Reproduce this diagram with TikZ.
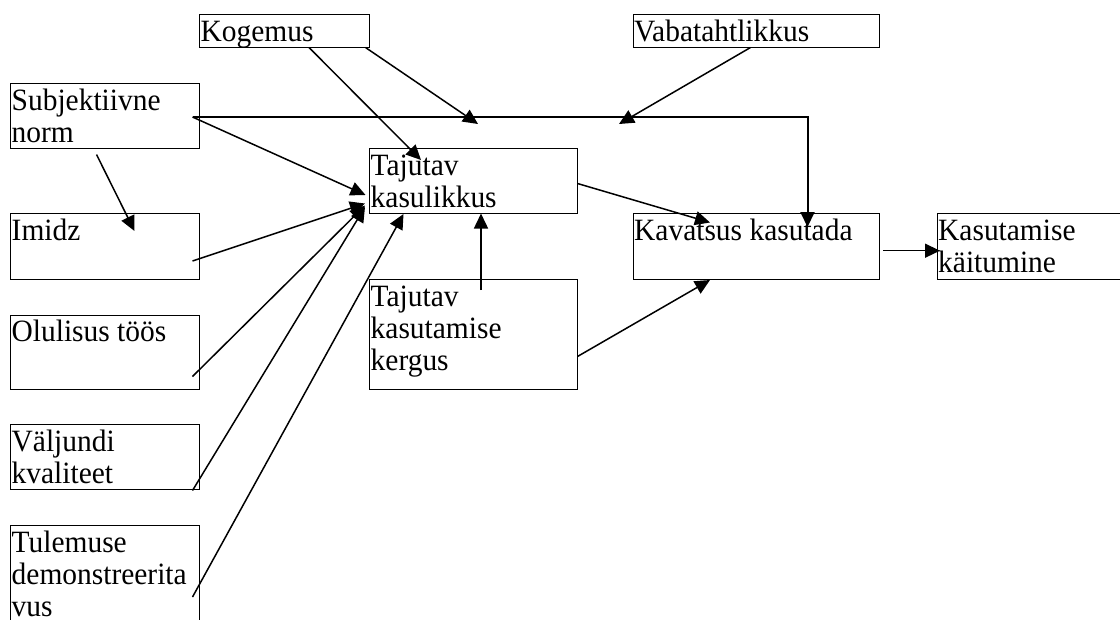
\documentclass[tikz,border=0pt]{standalone}
\usepackage{fontspec}
\setmainfont[FakeStretch=0.95]{Liberation Serif}
\usetikzlibrary{calc,arrows.meta}
\tikzset{
 box/.style={draw, line width=1pt, anchor=north west, inner sep=0pt, outer sep=0pt},
 lbl/.style={anchor=north west, inner sep=0pt, align=left, font=\fontsize{31}{32}\selectfont},
 arr/.style={line width=1.5pt, -{Triangle[length=15pt,width=14pt]}},
}
\begin{document}
\begin{tikzpicture}[x=1pt,y=-1pt]
\useasboundingbox (0,0) rectangle (1120,619);
% boxes
\node[box,minimum width=170pt,minimum height=33pt] (kog) at (199.5,14.5) {};
\node[box,minimum width=246.5pt,minimum height=33pt] (vab) at (633,14.5) {};
\node[box,minimum width=189pt,minimum height=65pt] (sub) at (10.5,83.5) {};
\node[box,minimum width=208pt,minimum height=65pt] (kas) at (369.5,148.5) {};
\node[box,minimum width=246.5pt,minimum height=65.5pt] (kav) at (633,213.5) {};
\node[box,minimum width=200pt,minimum height=65.5pt] (kai) at (937,213.5) {};
\node[box,minimum width=189pt,minimum height=65.5pt] (imi) at (10.5,213.5) {};
\node[box,minimum width=208pt,minimum height=109.5pt] (ker) at (369.5,279.5) {};
\node[box,minimum width=189pt,minimum height=74pt] (olu) at (10.5,315) {};
\node[box,minimum width=189pt,minimum height=65pt] (val) at (10.5,424.5) {};
\node[box,minimum width=189pt,minimum height=120pt] (tul) at (10.5,525.5) {};
% labels
\node[lbl] (kog-t) at ($(kog.north west)+(1,3.3)$) {\rule{0pt}{23pt}Kogemus};
\node[lbl] (vab-t) at ($(vab.north west)+(1,3.3)$) {\rule{0pt}{23pt}Vabatahtlikkus};
\node[lbl] (sub-t) at ($(sub.north west)+(1,3.3)$) {\rule{0pt}{23pt}Subjektiivne\\norm};
\node[lbl] (kas-t) at ($(kas.north west)+(1,3.3)$) {\rule{0pt}{23pt}Tajutav\\kasulikkus};
\node[lbl] (kav-t) at ($(kav.north west)+(1,3.3)$) {\rule{0pt}{23pt}Kavatsus kasutada};
\node[lbl] (kai-t) at ($(kai.north west)+(1,3.3)$) {\rule{0pt}{23pt}Kasutamise\\käitumine};
\node[lbl] (imi-t) at ($(imi.north west)+(1,3.3)$) {\rule{0pt}{23pt}Imidz};
\node[lbl] (ker-t) at ($(ker.north west)+(1,3.3)$) {\rule{0pt}{23pt}Tajutav\\kasutamise\\kergus};
\node[lbl] (olu-t) at ($(olu.north west)+(1,3.3)$) {\rule{0pt}{23pt}Olulisus töös};
\node[lbl] (val-t) at ($(val.north west)+(1,3.3)$) {\rule{0pt}{23pt}Väljundi\\kvaliteet};
\node[lbl] (tul-t) at ($(tul.north west)+(1,3.3)$) {\rule{0pt}{23pt}Tulemuse\\demonstreerita\\vus};
% connectors
\draw[arr] ($(sub.north east)+(-7,33.5)$) -- ($(kas.north west)+(-4,46.5)$);
\draw[arr,line width=2pt] ($(sub.north east)+(-7,33.5)$) -| ($(kav.north west)+(174.5,13.5)$);
\draw[arr] ($(kog.south west)+(109.5,0)$) -- ($(kas.north west)+(51.5,11.5)$);
\coordinate (j1) at ($(kas.north west)+(108.5,-24.5)$);
\draw[arr] ($(kog.south east)+(-4,0)$) -- (j1);
\coordinate (j2) at ($(kav.north west)+(-14,-89.5)$);
\draw[arr] ($(vab.south west)+(117.5,0)$) -- (j2);
\draw[arr] ($(sub.south west)+(86,6)$) -- ($(imi.north west)+(124,17.5)$);
\draw[arr] ($(imi.south east)+(-7,-18)$) -- ($(kas.north west)+(-4.5,55)$);
\draw[arr] ($(olu.south east)+(-7,-12.5)$) -- ($(kas.north west)+(-4.5,57)$);
\draw[arr] ($(val.south east)+(-7,1)$) -- ($(kas.north west)+(-4.5,58.5)$);
\draw[arr] ($(tul.north east)+(-7,71.5)$) -- ($(kas.south west)+(34,0.5)$);
\draw[arr] ($(ker.north west)+(111.5,10.5)$) -- ($(kas.south west)+(111.5,0)$);
\draw[arr] ($(kas.north east)+(0,35)$) -- ($(kav.north west)+(77,9)$);
\draw[arr] ($(ker.north east)+(0,77)$) -- ($(kav.south west)+(77,1)$);
\draw[arr] ($(kav.south east)+(3.5,-28.3)$) -- ($(kai.south west)+(3,-28.3)$);
\end{tikzpicture}
\end{document}
